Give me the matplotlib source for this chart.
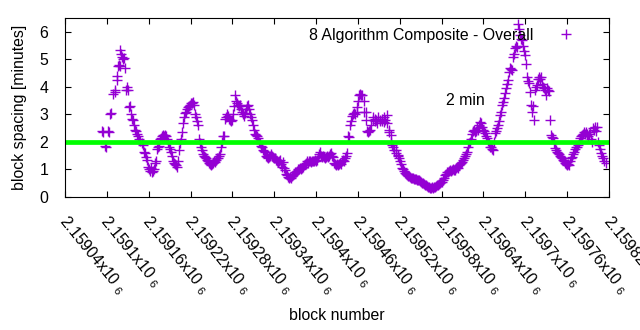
import matplotlib
matplotlib.use("Agg")
import matplotlib.pyplot as plt
import matplotlib.transforms as mtransforms
from matplotlib.ticker import FixedLocator, FuncFormatter

plt.rcParams['font.family'] = ['Liberation Sans', 'DejaVu Sans']
plt.rcParams['mathtext.fontset'] = 'custom'
plt.rcParams['mathtext.rm'] = 'Liberation Sans'
plt.rcParams['mathtext.it'] = 'Liberation Sans'

FS = 11.4

# block numbers are stored as offsets from this base
BASE = 2159000

block_off = [
    93, 95, 97, 99, 101, 103, 105, 106, 109, 111, 112, 114, 115, 116, 117, 119,
    119, 120, 122, 123, 125, 126, 127, 129, 130, 132, 133, 135, 136, 138, 139, 140,
    142, 143, 145, 146, 148, 150, 152, 153, 155, 156, 158, 159, 160, 162, 163, 165,
    166, 168, 169, 170, 172, 173, 175, 176, 178, 179, 180, 182, 183, 185, 186, 188,
    189, 191, 192, 193, 195, 196, 198, 199, 201, 202, 203, 205, 206, 208, 209, 211,
    212, 213, 215, 216, 218, 219, 221, 222, 223, 225, 226, 228, 229, 231, 232, 234,
    235, 236, 238, 239, 241, 242, 243, 245, 246, 248, 249, 251, 252, 253, 255, 256,
    258, 259, 261, 262, 263, 265, 266, 268, 269, 271, 272, 274, 275, 277, 278, 279,
    281, 282, 284, 285, 287, 288, 289, 291, 292, 294, 295, 297, 298, 300, 301, 302,
    304, 305, 307, 308, 310, 311, 312, 314, 315, 317, 318, 320, 321, 322, 324, 325,
    327, 328, 330, 331, 333, 334, 335, 337, 338, 340, 341, 343, 344, 345, 347, 348,
    350, 351, 353, 354, 355, 357, 358, 360, 361, 363, 364, 366, 367, 368, 370, 371,
    373, 374, 376, 377, 379, 380, 381, 383, 384, 386, 387, 389, 390, 391, 393, 394,
    396, 397, 399, 400, 401, 403, 404, 406, 407, 409, 410, 411, 413, 414, 416, 417,
    419, 420, 422, 423, 424, 426, 427, 429, 430, 432, 433, 434, 436, 437, 439, 440,
    442, 443, 445, 446, 447, 449, 450, 452, 453, 455, 456, 458, 459, 460, 462, 463,
    465, 466, 468, 469, 471, 472, 473, 475, 476, 478, 479, 481, 482, 484, 485, 486,
    488, 489, 491, 492, 494, 495, 497, 498, 499, 501, 502, 504, 505, 507, 508, 509,
    511, 512, 514, 515, 517, 518, 519, 520, 522, 523, 525, 526, 528, 529, 530, 532,
    533, 535, 536, 538, 539, 540, 542, 543, 545, 546, 548, 549, 550, 552, 553, 555,
    556, 558, 559, 560, 562, 563, 565, 566, 568, 569, 571, 572, 573, 575, 576, 578,
    579, 581, 582, 583, 585, 586, 588, 589, 591, 592, 593, 595, 596, 598, 599, 601,
    602, 603, 605, 606, 608, 609, 611, 612, 614, 615, 616, 618, 619, 621, 622, 624,
    625, 626, 628, 629, 631, 632, 634, 635, 636, 638, 639, 641, 642, 644, 645, 646,
    648, 649, 651, 652, 654, 655, 656, 658, 659, 661, 662, 664, 665, 667, 668, 669,
    671, 672, 674, 675, 677, 678, 680, 681, 682, 684, 685, 687, 688, 690, 691, 692,
    694, 695, 697, 698, 700, 701, 703, 704, 705, 707, 708, 710, 711, 713, 714, 715,
    717, 718, 720, 721, 723, 724, 726, 727, 728, 730, 731, 733, 734, 736, 737, 738,
    740, 741, 743, 744, 746, 747, 748, 750, 751, 753, 754, 756, 757, 759, 760, 761,
    763, 764, 766, 767, 769, 770, 771, 773, 774, 776, 777, 779, 780, 782, 783, 784,
    786, 787, 789, 790, 792, 793, 794, 796, 797, 799, 800, 802, 803, 804, 806, 807,
    809, 810, 812, 813, 815,
]

spacing = [
    2.4, 2.35, 1.85, 1.8, 2.4, 2.35, 3.02, 3.05, 3.75, 3.8, 3.9, 4.25, 4.4, 4.74, 4.8, 4.75,
    5.35, 5.2, 5.1, 5.0, 5.05, 4.7, 3.9, 4.0, 3.9, 3.28, 3.3, 3.0, 2.85, 2.8, 2.6, 2.45,
    2.4, 2.3, 2.2, 2.1, 2.05, 1.95, 1.9, 1.65, 1.6, 1.45, 1.35, 1.1, 1.0, 0.95, 1.05, 0.9,
    0.95, 1.0, 1.25, 1.3, 1.75, 1.8, 1.85, 2.1, 2.15, 2.2, 2.25, 2.2, 2.25, 2.2, 2.1, 2.0,
    1.83, 1.75, 1.65, 1.5, 1.3, 1.25, 1.2, 1.15, 1.1, 1.3, 1.7, 1.95, 2.1, 2.35, 2.7, 2.9,
    3.05, 3.1, 3.2, 3.27, 3.3, 3.35, 3.4, 3.42, 3.45, 3.35, 3.0, 2.9, 2.75, 2.6, 2.1, 1.95,
    1.83, 1.7, 1.55, 1.5, 1.45, 1.4, 1.35, 1.3, 1.25, 1.2, 1.15, 1.2, 1.25, 1.3, 1.28, 1.35,
    1.4, 1.42, 1.5, 1.55, 1.83, 2.0, 2.2, 2.23, 2.85, 2.9, 3.0, 2.95, 2.85, 2.8, 2.75, 2.8,
    3.0, 3.3, 3.7, 3.5, 3.4, 3.35, 3.3, 3.35, 3.2, 3.1, 3.0, 2.95, 3.05, 3.2, 3.3, 3.35,
    3.2, 3.0, 2.9, 2.8, 2.6, 2.45, 2.3, 2.25, 2.2, 2.15, 2.0, 1.95, 1.85, 1.8, 1.7, 1.68,
    1.65, 1.5, 1.45, 1.42, 1.45, 1.5, 1.55, 1.5, 1.45, 1.42, 1.4, 1.35, 1.3, 1.28, 1.3, 1.35,
    1.2, 1.1, 1.28, 1.05, 0.98, 0.85, 0.8, 0.74, 0.7, 0.72, 0.68, 0.75, 0.8, 0.85, 0.9, 0.92,
    0.95, 1.0, 1.02, 1.05, 1.0, 1.05, 1.1, 1.15, 1.2, 1.25, 1.3, 1.25, 1.3, 1.32, 1.28, 1.3,
    1.32, 1.3, 1.35, 1.3, 1.35, 1.45, 1.55, 1.65, 1.5, 1.45, 1.5, 1.45, 1.4, 1.45, 1.5, 1.45,
    1.5, 1.55, 1.6, 1.5, 1.45, 1.25, 1.2, 1.15, 1.2, 1.15, 1.2, 1.25, 1.2, 1.3, 1.35, 1.3,
    1.4, 1.5, 1.6, 2.2, 2.19, 2.6, 2.75, 2.95, 3.0, 3.05, 3.0, 3.1, 3.28, 3.5, 3.7, 3.75,
    3.72, 3.7, 3.5, 3.1, 3.1, 2.8, 2.4, 2.35, 2.4, 2.45, 2.6, 2.8, 2.9, 2.75, 2.85, 2.8,
    2.7, 2.9, 2.75, 2.8, 2.85, 2.75, 2.9, 2.74, 2.8, 2.96, 2.7, 2.44, 2.35, 2.25, 2.0, 1.9,
    1.8, 1.7, 1.7, 1.6, 1.53, 1.5, 1.42, 1.3, 1.2, 1.05, 1.0, 0.95, 0.87, 0.85, 0.8, 0.78,
    0.75, 0.72, 0.7, 0.7, 0.68, 0.66, 0.65, 0.64, 0.63, 0.62, 0.6, 0.58, 0.55, 0.52, 0.5, 0.48,
    0.45, 0.42, 0.4, 0.38, 0.35, 0.34, 0.33, 0.35, 0.34, 0.36, 0.38, 0.4, 0.44, 0.45, 0.48, 0.52,
    0.55, 0.56, 0.62, 0.7, 0.8, 0.85, 0.9, 0.92, 0.95, 0.98, 0.95, 0.98, 1.0, 0.97, 0.98, 1.05,
    1.1, 1.05, 1.15, 1.2, 1.25, 1.28, 1.35, 1.4, 1.5, 1.55, 1.65, 1.8, 1.96, 1.98, 2.1, 2.3,
    2.4, 2.44, 2.35, 2.4, 2.5, 2.44, 2.6, 2.74, 2.7, 2.55, 2.45, 2.4, 2.33, 2.2, 2.15, 2.05,
    1.95, 1.83, 1.8, 1.75, 1.7, 2.0, 2.33, 2.4, 2.5, 2.62, 2.75, 2.98, 3.1, 3.35, 3.45, 3.6,
    3.78, 3.95, 4.1, 4.25, 4.55, 4.7, 4.65, 4.6, 5.1, 5.2, 5.4, 5.5, 5.45, 6.3, 6.1, 5.9,
    5.75, 5.7, 5.5, 5.3, 5.15, 4.84, 4.37, 4.2, 4.15, 3.83, 3.35, 3.1, 3.3, 2.8, 3.9, 4.0,
    4.05, 4.3, 4.35, 4.3, 4.37, 4.1, 4.0, 3.95, 3.9, 3.7, 3.95, 3.9, 3.85, 2.8, 2.25, 2.19,
    2.15, 1.95, 1.78, 1.7, 1.65, 1.6, 1.55, 1.5, 1.45, 1.4, 1.35, 1.3, 1.25, 1.2, 1.18, 1.2,
    1.16, 1.3, 1.4, 1.47, 1.55, 1.65, 1.75, 1.8, 1.83, 1.9, 2.0, 2.15, 2.2, 2.25, 2.3, 2.36,
    2.3, 2.35, 2.3, 2.2, 2.3, 2.36, 2.1, 2.0, 2.5, 2.45, 2.55, 2.4, 2.55, 2.0, 1.9, 1.75,
    1.6, 1.5, 1.4, 1.3, 1.24,
]

target = 2.0
x_ticks = list(range(2159040, 2159821, 60))
y_ticks = [0, 1, 2, 3, 4, 5, 6]

blocks = [BASE + b for b in block_off]

fig = plt.figure(figsize=(6.4, 3.3), dpi=100)
ax = fig.add_axes([65 / 640, 1 - 197 / 330, 544 / 640, 179 / 330])

ax.plot(blocks, spacing, linestyle='none', marker='+', markersize=6.5,
        markeredgewidth=1.0, color='#9400d3', label='8 Algorithm Composite - Overall')
ax.plot([x_ticks[0], x_ticks[-1]], [target, target], color='#00ff00', linewidth=3.4)
ax.text(2159587, 3.49, '2 min', ha='left', va='center', fontsize=FS)

ax.set_xlim(x_ticks[0], x_ticks[-1])
ax.set_ylim(0, 6.5)
ax.xaxis.set_major_locator(FixedLocator(x_ticks))
ax.set_yticks(y_ticks)


def sci_fmt(v, pos):
    s = ('%.6f' % (v / 1e6)).rstrip('0').rstrip('.')
    return s + 'x10 $_{6}$'


ax.xaxis.set_major_formatter(FuncFormatter(sci_fmt))
ax.tick_params(direction='in', length=4.5, width=0.8, top=True, right=True,
               labelsize=FS)
ax.tick_params(axis='y', pad=12)
ax.tick_params(axis='x', pad=11)
shift = mtransforms.ScaledTranslation(3 / 72, 0, fig.dpi_scale_trans)
for lbl in ax.get_xticklabels():
    lbl.set_rotation(-51)
    lbl.set_ha('left')
    lbl.set_va('top')
    lbl.set_rotation_mode('anchor')
    lbl.set_transform(lbl.get_transform() + shift)

ax.set_xlabel('block number', fontsize=FS, labelpad=7)
ax.set_ylabel('block spacing [minutes]', fontsize=FS, labelpad=9)

ax.legend(loc='upper right', bbox_to_anchor=(0.968, 1.025), frameon=False,
          markerfirst=False, fontsize=FS, handlelength=1.4, handletextpad=1.4)

fig.savefig('out.png', dpi=100)
